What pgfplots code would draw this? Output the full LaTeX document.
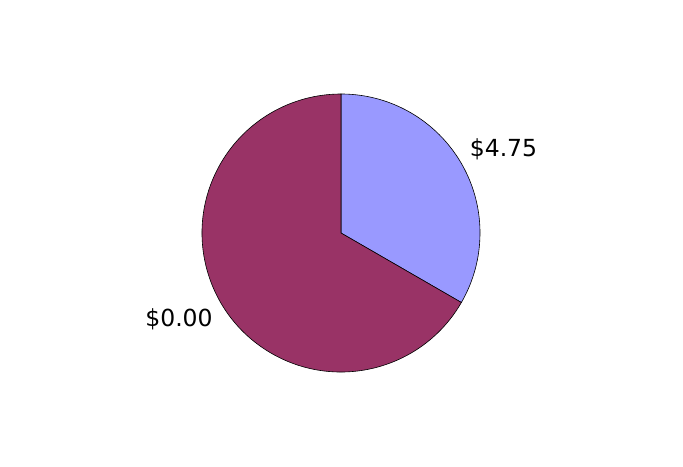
\documentclass[border=0pt]{standalone}
\usepackage{pgfplots}
\pgfplotsset{compat=1.18}
\usepackage{pgfplotstable}
\usepackage{fontspec}
\setmainfont{DejaVu Sans}

\definecolor{sliceblue}{HTML}{9999FF}
\definecolor{slicewine}{HTML}{993366}

% pie slices: centre (px), share in percent, start/end angle
\pgfplotstableread{
x   y   share  a0   a1
341 234 33.33  90   -30
}\sliceA
\pgfplotstableread{
x   y   share  a0   a1
341 234 66.67  -30  -270
}\sliceB

\pgfplotsset{
  pie slice/.style={
    scatter, only marks, mark=text, text mark={},
    visualization depends on={\thisrow{a0}\as\azero},
    visualization depends on={\thisrow{a1}\as\aone},
    scatter/@pre marker code/.code={%
      \begin{scope}
      \path[draw=black, line width=0.6bp, fill=#1]
        (0,0) -- (\azero:139bp)
        arc[start angle=\azero, end angle=\aone, radius=139bp] -- cycle;
    },
    scatter/@post marker code/.code={\end{scope}},
  },
}

\begin{document}
\begin{tikzpicture}
\begin{axis}[
  scale only axis, width=683bp, height=467bp,
  xmin=0, xmax=683, ymin=0, ymax=467,
  hide axis, clip=false,
]
  \path (rel axis cs:0,0) rectangle (rel axis cs:1,1);
  \addplot[pie slice=sliceblue] table {\sliceA};
  \addplot[pie slice=slicewine] table {\sliceB};
  \addplot[draw=none, mark=none, nodes near coords,
    point meta=explicit symbolic,
    every node near coord/.append style={anchor=center, inner sep=0pt,
      font=\fontsize{23.5bp}{28bp}\selectfont, text=black}]
    coordinates {(503.5,318) [\$4.75] (179,148) [\$0.00]};
\end{axis}
\end{tikzpicture}
\end{document}
